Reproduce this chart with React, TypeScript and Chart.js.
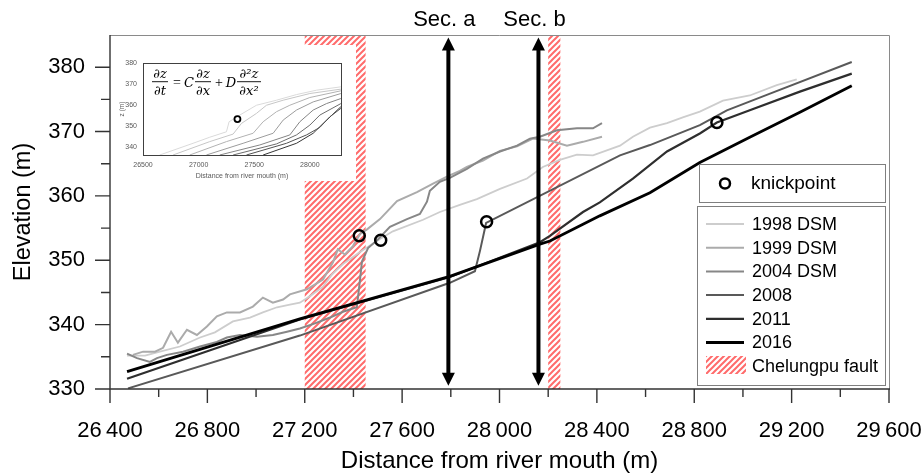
import React, { useEffect, useRef } from "react";
import { Chart, registerables } from "chart.js";
Chart.register(...registerables);

const FONT = "'Liberation Sans', Arial, Helvetica, sans-serif";

// ---------- main axes ----------
const X_MIN = 26400;
const X_MAX = 29600;
const Y_MIN = 330;
const Y_MAX = 385;
const xMajorTicks = [26400, 26800, 27200, 27600, 28000, 28400, 28800, 29200, 29600];
const xMinorTicks = [26600, 27000, 27400, 27800, 28200, 28600, 29000, 29400];
const yMajorTicks = [330, 340, 350, 360, 370, 380];
const yMinorTicks = [335, 345, 355, 365, 375];

// ---------- profiles (distance m, elevation m) ----------
const x1998 = [26470, 26544, 26605, 26687, 26770, 26831, 26905, 26975, 27028, 27086, 27139, 27180, 27221, 27275, 27312, 27357, 27427, 27468, 27509, 27562, 27686, 27755, 27837, 27907, 28002, 28113, 28178, 28248, 28318, 28384, 28495, 28548, 28618, 28688, 28753, 28823, 28918, 29028, 29139, 29221];
const z1998 = [335.2, 335.2, 335.8, 336.6, 338.0, 338.8, 340.5, 341.1, 341.9, 342.7, 343.1, 343.4, 344.4, 345.9, 347.8, 349.4, 351.3, 352.3, 353.3, 354.5, 356.3, 357.5, 358.6, 359.5, 361.1, 362.7, 364.5, 365.6, 366.4, 366.3, 367.8, 369.2, 370.6, 371.3, 372.2, 373.1, 374.8, 375.6, 377.2, 378.1];

const x1999 = [26494, 26536, 26585, 26618, 26651, 26679, 26716, 26757, 26798, 26839, 26880, 26934, 26987, 27028, 27069, 27111, 27139, 27209, 27275, 27316, 27336, 27365, 27398, 27427, 27456, 27509, 27579, 27661, 27727, 27784, 27837, 27866, 27932, 28002, 28072, 28137, 28207, 28277, 28343, 28421];
const z1999 = [335.3, 335.8, 335.8, 336.4, 338.9, 337.2, 339.2, 338.4, 339.7, 341.3, 341.9, 341.9, 342.8, 344.2, 343.4, 343.9, 344.7, 345.5, 347.0, 349.7, 351.7, 350.9, 352.2, 354.1, 354.8, 356.4, 359.2, 360.6, 361.9, 363.0, 363.9, 364.5, 365.5, 367.0, 367.7, 368.9, 368.6, 367.8, 368.4, 369.2];

const x2004 = [26470, 26511, 26564, 26593, 26634, 26700, 26770, 26839, 26880, 26934, 27004, 27069, 27127, 27180, 27242, 27304, 27357, 27414, 27427, 27435, 27460, 27497, 27517, 27550, 27620, 27673, 27702, 27714, 27755, 27796, 27866, 27932, 28002, 28072, 28125, 28166, 28236, 28318, 28384, 28421];
const z2004 = [335.5, 334.8, 334.2, 334.8, 335.3, 335.8, 336.6, 337.3, 338.0, 338.4, 338.1, 338.4, 338.9, 339.4, 340.2, 341.1, 342.0, 342.7, 347.0, 349.8, 351.9, 353.1, 353.9, 355.2, 356.4, 357.2, 359.1, 360.8, 362.2, 362.8, 364.2, 365.8, 366.9, 367.8, 368.9, 369.2, 370.2, 370.5, 370.5, 371.3];

const x2008 = [26474, 27180, 27796, 27899, 27920, 27945, 28495, 28618, 28823, 28934, 29098, 29447];
const z2008 = [330.1, 338.3, 346.5, 348.3, 351.5, 355.8, 366.3, 367.9, 371.0, 373.3, 375.7, 380.8];

const x2011 = [26470, 27180, 27796, 28166, 28207, 28343, 28412, 28548, 28688, 28823, 28893, 29028, 29234, 29447];
const z2011 = [331.6, 340.8, 347.4, 352.8, 353.8, 357.5, 359.0, 362.7, 366.9, 369.7, 371.4, 373.3, 376.2, 379.0];

const x2016 = [26470, 27180, 27796, 28166, 28207, 28343, 28412, 28618, 28823, 29028, 29234, 29447];
const z2016 = [332.7, 340.9, 347.5, 352.5, 353.0, 355.6, 356.9, 360.5, 365.2, 369.1, 373.0, 377.1];

const knickX = [27424, 27512, 27947, 28893];
const knickZ = [353.8, 353.1, 356.0, 371.4];

const faultStart = [27200, 28200];
const faultEnd = [27450, 28250];

const sectionX = [27790, 28160];
const sectionLabels = ["Sec. a", "Sec. b"];
const arrowTop = 384.6;
const arrowBottom = 330.5;

const seriesLabels = ["1998 DSM", "1999 DSM", "2004 DSM", "2008", "2011", "2016"];
const seriesXs = [x1998, x1999, x2004, x2008, x2011, x2016];
const seriesZs = [z1998, z1999, z2004, z2008, z2011, z2016];
const seriesColors = ["#cdcdcd", "#ababab", "#878787", "#595959", "#2e2e2e", "#000000"];
const seriesWidths = [1.8, 2, 2, 2, 2.2, 2.8];

// ---------- inset (model profiles) ----------
const insetXTicks = [26500, 27000, 27500, 28000];
const insetYTicks = [340, 350, 360, 370, 380];
const insetX0 = [26650, 26950, 27100, 27250, 27274, 27370, 27520, 27700, 27880, 28060, 28279];
const insetZ0 = [336.0, 341.6, 344.5, 347.1, 351.9, 355.1, 359.8, 362.2, 364.9, 367.0, 368.6];
const insetX1 = [26770, 27100, 27310, 27385, 27520, 27610, 27760, 28000, 28279];
const insetZ1 = [336.0, 342.4, 346.0, 351.1, 355.9, 359.8, 362.2, 365.4, 367.5];
const insetX2 = [26920, 27250, 27490, 27580, 27700, 27820, 28000, 28279];
const insetZ2 = [336.0, 342.4, 346.4, 351.9, 356.7, 359.8, 363.5, 366.7];
const insetX3 = [27070, 27400, 27670, 27760, 27880, 28030, 28279];
const insetZ3 = [336.0, 341.6, 346.4, 352.7, 357.5, 361.4, 365.4];
const insetX4 = [27190, 27550, 27820, 27910, 28030, 28150, 28279];
const insetZ4 = [336.0, 340.8, 345.6, 351.9, 357.5, 360.6, 363.0];
const insetX5 = [27310, 27700, 27880, 28000, 28090, 28279];
const insetZ5 = [336.0, 341.3, 345.6, 350.3, 355.1, 360.6];
const insetX6 = [27430, 27790, 27970, 28090, 28180, 28279];
const insetZ6 = [336.0, 341.6, 345.6, 349.2, 354.3, 358.3];
const insetX7 = [27580, 27880, 28030, 28120, 28279];
const insetZ7 = [336.0, 341.6, 346.4, 351.1, 359.1];
const insetXs = [insetX0, insetX1, insetX2, insetX3, insetX4, insetX5, insetX6, insetX7];
const insetZs = [insetZ0, insetZ1, insetZ2, insetZ3, insetZ4, insetZ5, insetZ6, insetZ7];
const insetColors = ["#dadada", "#c6c6c6", "#b2b2b2", "#9c9c9c", "#858585", "#6c6c6c", "#525252", "#363636"];
const insetKnickX = [27349];
const insetKnickZ = [353.2];

function pts(xs: number[], zs: number[]) {
  return xs.map((x, i) => ({ x, y: zs[i] }));
}

function makeHatch(): any {
  const t = document.createElement("canvas");
  t.width = 6;
  t.height = 6;
  const c = t.getContext("2d")!;
  c.fillStyle = "#ffffff";
  c.fillRect(0, 0, 6, 6);
  c.strokeStyle = "#ff6b6b";
  c.lineWidth = 2;
  c.beginPath();
  c.moveTo(-1, 7); c.lineTo(7, -1);
  c.moveTo(-7, 7); c.lineTo(1, -1);
  c.moveTo(5, 7); c.lineTo(13, -1);
  c.stroke();
  return c.createPattern(t, "repeat");
}

const spaced = (v: number) => {
  const s = String(v);
  return s.slice(0, 2) + "\u2009" + s.slice(2);
};

const zeroPad = (s: any) => {
  s.paddingLeft = 0;
  s.paddingRight = 0;
  s.paddingTop = 0;
  s.paddingBottom = 0;
};

export default function App() {
  const mainRef = useRef<HTMLCanvasElement>(null);
  const insetRef = useRef<HTMLCanvasElement>(null);

  useEffect(() => {
    const hatch = makeHatch();

    const mainPlugin = {
      id: "mainDecor",
      beforeDatasetsDraw(chart: any) {
        const { ctx, chartArea: ca, scales } = chart;
        const xs = scales.x;
        ctx.save();
        ctx.fillStyle = hatch;
        faultStart.forEach((s, i) => {
          const a = xs.getPixelForValue(s);
          const b = xs.getPixelForValue(faultEnd[i]);
          ctx.fillRect(a, ca.top, b - a, ca.bottom - ca.top);
        });
        ctx.restore();
      },
      afterDatasetsDraw(chart: any) {
        const { ctx, chartArea: ca, scales } = chart;
        const xs = scales.x;
        const ys = scales.y;
        ctx.save();
        // frame (top/right)
        ctx.strokeStyle = "#8a8a8a";
        ctx.lineWidth = 1;
        ctx.beginPath();
        ctx.moveTo(ca.left, ca.top + 0.5);
        ctx.lineTo(ca.right + 0.5, ca.top + 0.5);
        ctx.lineTo(ca.right + 0.5, ca.bottom);
        ctx.stroke();
        // axes
        ctx.strokeStyle = "#333333";
        ctx.lineWidth = 1.4;
        ctx.beginPath();
        ctx.moveTo(ca.left, ca.top);
        ctx.lineTo(ca.left, ca.bottom);
        ctx.lineTo(ca.right + 1, ca.bottom);
        ctx.stroke();
        // ticks
        ctx.beginPath();
        yMajorTicks.forEach((v) => {
          const p = ys.getPixelForValue(v);
          ctx.moveTo(ca.left - 15, p);
          ctx.lineTo(ca.left, p);
        });
        yMinorTicks.forEach((v) => {
          const p = ys.getPixelForValue(v);
          ctx.moveTo(ca.left - 9, p);
          ctx.lineTo(ca.left, p);
        });
        xMajorTicks.forEach((v) => {
          const p = xs.getPixelForValue(v);
          ctx.moveTo(p, ca.bottom);
          ctx.lineTo(p, ca.bottom + 14);
        });
        xMinorTicks.forEach((v) => {
          const p = xs.getPixelForValue(v);
          ctx.moveTo(p, ca.bottom);
          ctx.lineTo(p, ca.bottom + 8);
        });
        ctx.stroke();

        // section arrows
        ctx.fillStyle = "#000";
        ctx.strokeStyle = "#000";
        sectionX.forEach((sx, i) => {
          const px = xs.getPixelForValue(sx);
          const t = ys.getPixelForValue(arrowTop);
          const b = ys.getPixelForValue(arrowBottom);
          ctx.lineWidth = 4;
          ctx.beginPath();
          ctx.moveTo(px, t + 8);
          ctx.lineTo(px, b - 8);
          ctx.stroke();
          ctx.beginPath();
          ctx.moveTo(px, t);
          ctx.lineTo(px - 6.5, t + 13);
          ctx.lineTo(px + 6.5, t + 13);
          ctx.closePath();
          ctx.fill();
          ctx.beginPath();
          ctx.moveTo(px, b);
          ctx.lineTo(px - 6.5, b - 13);
          ctx.lineTo(px + 6.5, b - 13);
          ctx.closePath();
          ctx.fill();
          ctx.font = `22px ${FONT}`;
          ctx.textAlign = "center";
          ctx.textBaseline = "middle";
          ctx.fillText(sectionLabels[i], px - 4, 20);
        });

        // legend box 1
        ctx.fillStyle = "#fff";
        ctx.strokeStyle = "#7f7f7f";
        ctx.lineWidth = 1;
        ctx.fillRect(699.5, 164.5, 186, 38);
        ctx.strokeRect(699.5, 164.5, 186, 38);
        ctx.strokeStyle = "#000";
        ctx.lineWidth = 2.5;
        ctx.beginPath();
        ctx.arc(725, 183.5, 5, 0, Math.PI * 2);
        ctx.stroke();
        ctx.fillStyle = "#000";
        ctx.font = `19px ${FONT}`;
        ctx.textAlign = "left";
        ctx.textBaseline = "middle";
        ctx.fillText("knickpoint", 751, 183.5);

        // legend box 2
        ctx.fillStyle = "#fff";
        ctx.strokeStyle = "#7f7f7f";
        ctx.lineWidth = 1;
        ctx.fillRect(697.5, 206.5, 188, 179);
        ctx.strokeRect(697.5, 206.5, 188, 179);
        ctx.font = `18px ${FONT}`;
        seriesLabels.forEach((lab, i) => {
          const yy = 224 + i * 23.7;
          ctx.strokeStyle = seriesColors[i];
          ctx.lineWidth = seriesWidths[i];
          ctx.beginPath();
          ctx.moveTo(706, yy);
          ctx.lineTo(744, yy);
          ctx.stroke();
          ctx.fillStyle = "#000";
          ctx.fillText(lab, 752, yy + 1);
        });
        ctx.fillStyle = hatch;
        ctx.fillRect(706, 356, 40, 18);
        ctx.fillStyle = "#000";
        ctx.fillText("Chelungpu fault", 752, 367);
        ctx.restore();
      },
    };

    const lineDatasets = seriesLabels.map((lab, i) => ({
      label: lab,
      data: pts(seriesXs[i], seriesZs[i]),
      borderColor: seriesColors[i],
      borderWidth: seriesWidths[i],
      pointRadius: 0,
      tension: 0,
      fill: false,
    }));

    const main = new Chart(mainRef.current!, {
      type: "line",
      data: {
        datasets: [
          {
            label: "knickpoint",
            data: pts(knickX, knickZ),
            showLine: false,
            pointRadius: 5.5,
            pointBorderWidth: 2.5,
            pointBorderColor: "#000",
            pointBackgroundColor: "rgba(0,0,0,0)",
            borderColor: "#000",
          } as any,
          ...lineDatasets.slice().reverse(),
        ],
      },
      options: {
        responsive: false,
        animation: false,
        devicePixelRatio: 1,
        events: [],
        layout: { padding: { top: 35, right: 33, left: 0, bottom: 0 } },
        plugins: { legend: { display: false }, tooltip: { enabled: false } },
        scales: {
          x: {
            type: "linear",
            min: X_MIN,
            max: X_MAX,
            afterBuildTicks: (s: any) => {
              s.ticks = xMajorTicks.map((v) => ({ value: v }));
            },
            afterFit: (s: any) => {
              s.height = 84;
              zeroPad(s);
            },
            grid: { display: false, drawTicks: false },
            border: { display: false },
            ticks: {
              autoSkip: false,
              maxRotation: 0,
              padding: 29,
              color: "#000",
              font: { family: FONT, size: 22 },
              callback: (v: any) => spaced(Number(v)),
            },
            title: {
              display: true,
              text: "Distance from river mouth (m)",
              color: "#000",
              font: { family: FONT, size: 24, lineHeight: 1 },
              padding: { top: 0, bottom: 0 },
            },
          },
          y: {
            type: "linear",
            min: Y_MIN,
            max: Y_MAX,
            afterBuildTicks: (s: any) => {
              s.ticks = yMajorTicks.map((v) => ({ value: v }));
            },
            afterFit: (s: any) => {
              s.width = 110;
              zeroPad(s);
            },
            grid: { display: false, drawTicks: false },
            border: { display: false },
            ticks: {
              padding: 25,
              color: "#000",
              font: { family: FONT, size: 22 },
              callback: (v: any) => String(v),
            },
            title: {
              display: true,
              text: "Elevation (m)",
              color: "#000",
              font: { family: FONT, size: 23.5 },
              padding: { top: 9, bottom: 0 },
            },
          },
        },
      },
      plugins: [mainPlugin],
    } as any);

    const insetPlugin = {
      id: "insetDecor",
      afterDatasetsDraw(chart: any) {
        const { ctx, chartArea: ca } = chart;
        ctx.save();
        ctx.strokeStyle = "#404040";
        ctx.lineWidth = 1;
        ctx.strokeRect(Math.round(ca.left) + 0.5, Math.round(ca.top) + 0.5, Math.round(ca.right - ca.left), Math.round(ca.bottom - ca.top));
        // equation
        const it = "italic 13px 'DejaVu Serif', 'Liberation Serif', serif";
        const up = "14px 'Liberation Serif', 'DejaVu Serif', serif";
        const barY = 36.7;
        ctx.fillStyle = "#000";
        ctx.strokeStyle = "#000";
        ctx.lineWidth = 0.9;
        ctx.textAlign = "center";
        ctx.textBaseline = "alphabetic";
        const frac = (num: string, den: string, cx: number, w: number) => {
          ctx.font = it;
          ctx.fillText(num, cx, barY - 3.5);
          ctx.fillText(den, cx, barY + 13.5);
          ctx.beginPath();
          ctx.moveTo(cx - w / 2, barY);
          ctx.lineTo(cx + w / 2, barY);
          ctx.stroke();
        };
        frac("\u2202z", "\u2202t", 49, 16);
        ctx.font = up;
        ctx.fillText("=", 66, 42);
        ctx.font = it;
        ctx.fillText("C", 78, 42);
        frac("\u2202z", "\u2202x", 92, 16);
        ctx.font = up;
        ctx.fillText("+", 108, 42);
        ctx.font = it;
        ctx.fillText("D", 120, 42);
        frac("\u2202\u00b2z", "\u2202x\u00b2", 138, 24);
        ctx.restore();
      },
    };

    const inset = new Chart(insetRef.current!, {
      type: "line",
      data: {
        datasets: [
          {
            label: "knick",
            data: pts(insetKnickX, insetKnickZ),
            showLine: false,
            pointRadius: 3,
            pointBorderWidth: 1.8,
            pointBorderColor: "#000",
            pointBackgroundColor: "rgba(0,0,0,0)",
          } as any,
          ...insetXs.map((xs, i) => ({
            label: "m" + i,
            data: pts(xs, insetZs[i]),
            borderColor: insetColors[i],
            borderWidth: 1,
            pointRadius: 0,
            tension: 0,
            fill: false,
          })),
        ],
      },
      options: {
        responsive: false,
        animation: false,
        devicePixelRatio: 1,
        events: [],
        layout: { padding: { top: 18, right: 15, left: 0, bottom: 0 } },
        plugins: { legend: { display: false }, tooltip: { enabled: false } },
        scales: {
          x: {
            type: "linear",
            min: 26500,
            max: 28280,
            afterBuildTicks: (s: any) => {
              s.ticks = insetXTicks.map((v) => ({ value: v }));
            },
            afterFit: (s: any) => {
              s.height = 26;
              zeroPad(s);
            },
            grid: { display: false, drawTicks: false },
            border: { display: false },
            ticks: {
              autoSkip: false,
              maxRotation: 0,
              padding: 6,
              color: "#595959",
              font: { family: FONT, size: 7 },
              callback: (v: any) => String(v),
            },
            title: {
              display: true,
              text: "Distance from river mouth (m)",
              color: "#595959",
              font: { family: FONT, size: 7 },
              padding: { top: 0, bottom: 1 },
            },
          },
          y: {
            type: "linear",
            min: 336,
            max: 380,
            afterBuildTicks: (s: any) => {
              s.ticks = insetYTicks.map((v) => ({ value: v }));
            },
            afterFit: (s: any) => {
              s.width = 32;
              zeroPad(s);
            },
            grid: { display: false, drawTicks: false },
            border: { display: false },
            ticks: {
              padding: 6,
              color: "#595959",
              font: { family: FONT, size: 7 },
              callback: (v: any) => String(v),
            },
            title: {
              display: true,
              text: "z (m)",
              color: "#595959",
              font: { family: FONT, size: 6.5 },
              padding: { top: 7, bottom: 0 },
            },
          },
        },
      },
      plugins: [insetPlugin],
    } as any);

    return () => {
      main.destroy();
      inset.destroy();
    };
  }, []);

  return (
    <div style={{ position: "absolute", left: 0, top: 0, width: 922, height: 473, background: "#fff" }}>
      <canvas ref={mainRef} width={922} height={473} style={{ position: "absolute", left: 0, top: 0 }} />
      <canvas
        ref={insetRef}
        width={245}
        height={136}
        style={{ position: "absolute", left: 111, top: 45, background: "#fff" }}
      />
    </div>
  );
}
